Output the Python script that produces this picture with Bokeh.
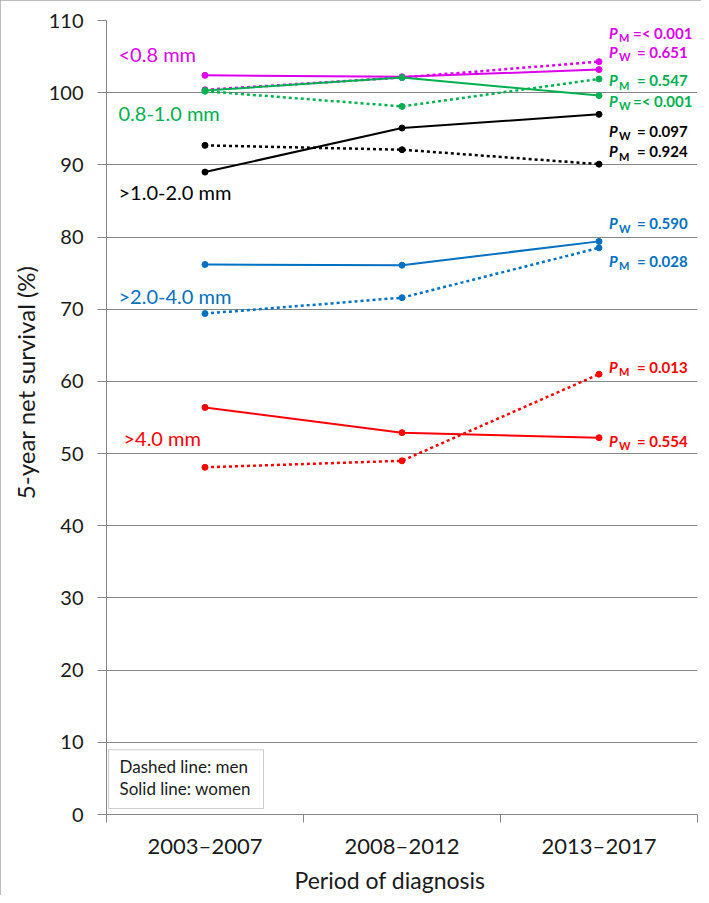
from bokeh.plotting import figure
from bokeh.models import Range1d, FixedTicker, BoxAnnotation, ColumnDataSource, Title
from bokeh.core.properties import value
from bokeh.embed import file_html
from bokeh.resources import INLINE

# ---------------- data ----------------
periods = ["2003\u20132007", "2008\u20132012", "2013\u20132017"]
groups = ["<0.8 mm", "0.8-1.0 mm", ">1.0-2.0 mm", ">2.0-4.0 mm", ">4.0 mm"]
colors = ["#DD00EE", "#00B050", "#000000", "#0070C0", "#FF0000"]

women_lt08 = [102.4, 102.2, 103.2]
women_08_10 = [100.3, 102.1, 99.6]
women_10_20 = [89.0, 95.1, 97.0]
women_20_40 = [76.2, 76.1, 79.4]
women_gt40 = [56.4, 52.9, 52.2]

men_lt08 = [100.4, 102.1, 104.3]
men_08_10 = [100.2, 98.1, 101.9]
men_10_20 = [92.7, 92.1, 90.1]
men_20_40 = [69.4, 71.6, 78.5]
men_gt40 = [48.1, 49.0, 61.0]

women = [women_lt08, women_08_10, women_10_20, women_20_40, women_gt40]
men = [men_lt08, men_08_10, men_10_20, men_20_40, men_gt40]

# p-value annotations (group index, subscript, text)
p_group = [0, 0, 1, 1, 2, 2, 3, 3, 4, 4]
p_sub = ["M", "W", "M", "W", "W", "M", "W", "M", "M", "W"]
p_text = ["=< 0.001", "= 0.651", "= 0.547", "=< 0.001", "= 0.097",
          "= 0.924", "= 0.590", "= 0.028", "= 0.013", "= 0.554"]

y_ticks = [0, 10, 20, 30, 40, 50, 60, 70, 80, 90, 100, 110]

# ---------------- layout positions (not data) ----------------
p_label_y = [108.3, 105.7, 101.7, 98.9, 94.7, 91.9, 81.9, 76.7, 62.0, 51.8]
group_label_x = [0.061, 0.061, 0.061, 0.061, 0.086]
group_label_y = [105.4, 97.2, 86.3, 71.8, 52.2]

FONT = "Lato"

x = [i + 0.5 for i in range(len(periods))]
n = len(periods)

p = figure(width=701, height=895, output_backend="svg", toolbar_location=None,
           x_range=Range1d(0, n), y_range=Range1d(0, 110),
           min_border_left=106, min_border_right=4, min_border_top=20,
           min_border_bottom=78, background_fill_color="white",
           border_fill_color="white", outline_line_color=None)

p.styles = {"outline": "3px solid #a6a6a6", "outline-offset": "-3px"}

# grid
p.xgrid.grid_line_color = None
p.ygrid.ticker = FixedTicker(ticks=y_ticks)
p.ygrid.grid_line_color = "#868686"
p.ygrid.grid_line_width = 1

# y axis
p.yaxis.ticker = FixedTicker(ticks=y_ticks)
p.yaxis.axis_line_color = "#868686"
p.yaxis.major_tick_line_color = "#868686"
p.yaxis.major_tick_out = 9
p.yaxis.major_tick_in = 0
p.yaxis.minor_tick_line_color = None
p.yaxis.major_label_text_font = FONT
p.yaxis.major_label_text_font_size = "20px"
p.yaxis.major_label_text_color = "#1a1a1a"
p.yaxis.major_label_standoff = 14

# x axis: labels at category centres, ticks at category boundaries
p.xaxis.ticker = FixedTicker(ticks=x, minor_ticks=list(range(n + 1)))
p.xaxis.major_label_overrides = {xx: lab for xx, lab in zip(x, periods)}
p.xaxis.axis_line_color = "#868686"
p.xaxis.major_tick_line_color = None
p.xaxis.major_tick_out = 0
p.xaxis.major_tick_in = 0
p.xaxis.minor_tick_line_color = "#868686"
p.xaxis.minor_tick_out = 8
p.xaxis.minor_tick_in = 0
p.xaxis.major_label_text_font = FONT
p.xaxis.major_label_text_font_size = "22px"
p.xaxis.major_label_text_color = "#1a1a1a"
p.xaxis.major_label_standoff = 9

# axis titles (side titles, positioned like the original)
p.add_layout(Title(text="5-year net survival (%)", align="right", offset=245,
                   text_font=FONT, text_font_size="24px", text_font_style="normal",
                   text_color="#1a1a1a", standoff=12), "left")
p.add_layout(Title(text="Period of diagnosis", align="left", offset=188,
                   text_font=FONT, text_font_size="23px", text_font_style="normal",
                   text_color="#1a1a1a", standoff=4), "below")

# series
for gi in range(len(groups)):
    c = colors[gi]
    p.line(x, men[gi], line_color=c, line_width=2.5, line_dash="3 3")
    p.scatter(x, men[gi], size=6, fill_color=c, line_color=c)
    p.line(x, women[gi], line_color=c, line_width=2)
    p.scatter(x, women[gi], size=6, fill_color=c, line_color=c)

# group labels
gsrc = ColumnDataSource(dict(x=group_label_x, y=group_label_y, t=groups, c=colors))
p.text(x="x", y="y", text="t", text_color="c", source=gsrc,
       text_font=value(FONT), text_font_size="20px",
       text_align="left", text_baseline="middle")

# p-value annotations
xl = x[-1]
psrc = ColumnDataSource(dict(
    x=[xl] * len(p_text), y=p_label_y,
    P=["P"] * len(p_text), sub=p_sub, rest=p_text,
    c=[colors[g] for g in p_group],
    off=[34 if t.startswith("=<") else 38 for t in p_text],
))
p.text(x="x", y="y", text="P", text_color="c", source=psrc, x_offset=10,
       text_font=value(FONT), text_font_style="bold italic",
       text_font_size="15px", text_align="left", text_baseline="middle")
p.text(x="x", y="y", text="sub", text_color="c", source=psrc, x_offset=20,
       y_offset=5, text_font=value(FONT), text_font_style="bold",
       text_font_size="11px", text_align="left", text_baseline="middle")
p.text(x="x", y="y", text="rest", text_color="c", source=psrc, x_offset="off",
       text_font=value(FONT), text_font_style="bold",
       text_font_size="15px", text_align="left", text_baseline="middle")

# line-style key box
p.add_layout(BoxAnnotation(left=0.01, right=0.797, bottom=0.83, top=8.97,
                           fill_alpha=0, line_color="#595959", line_width=1))
ksrc = ColumnDataSource(dict(x=[0.066, 0.066], y=[6.63, 3.59],
                             t=["Dashed line: men", "Solid line: women"]))
p.text(x="x", y="y", text="t", source=ksrc, text_color="#1a1a1a",
       text_font=value(FONT), text_font_size="17px",
       text_align="left", text_baseline="middle")

open("out.html", "w").write(file_html(p, INLINE))
